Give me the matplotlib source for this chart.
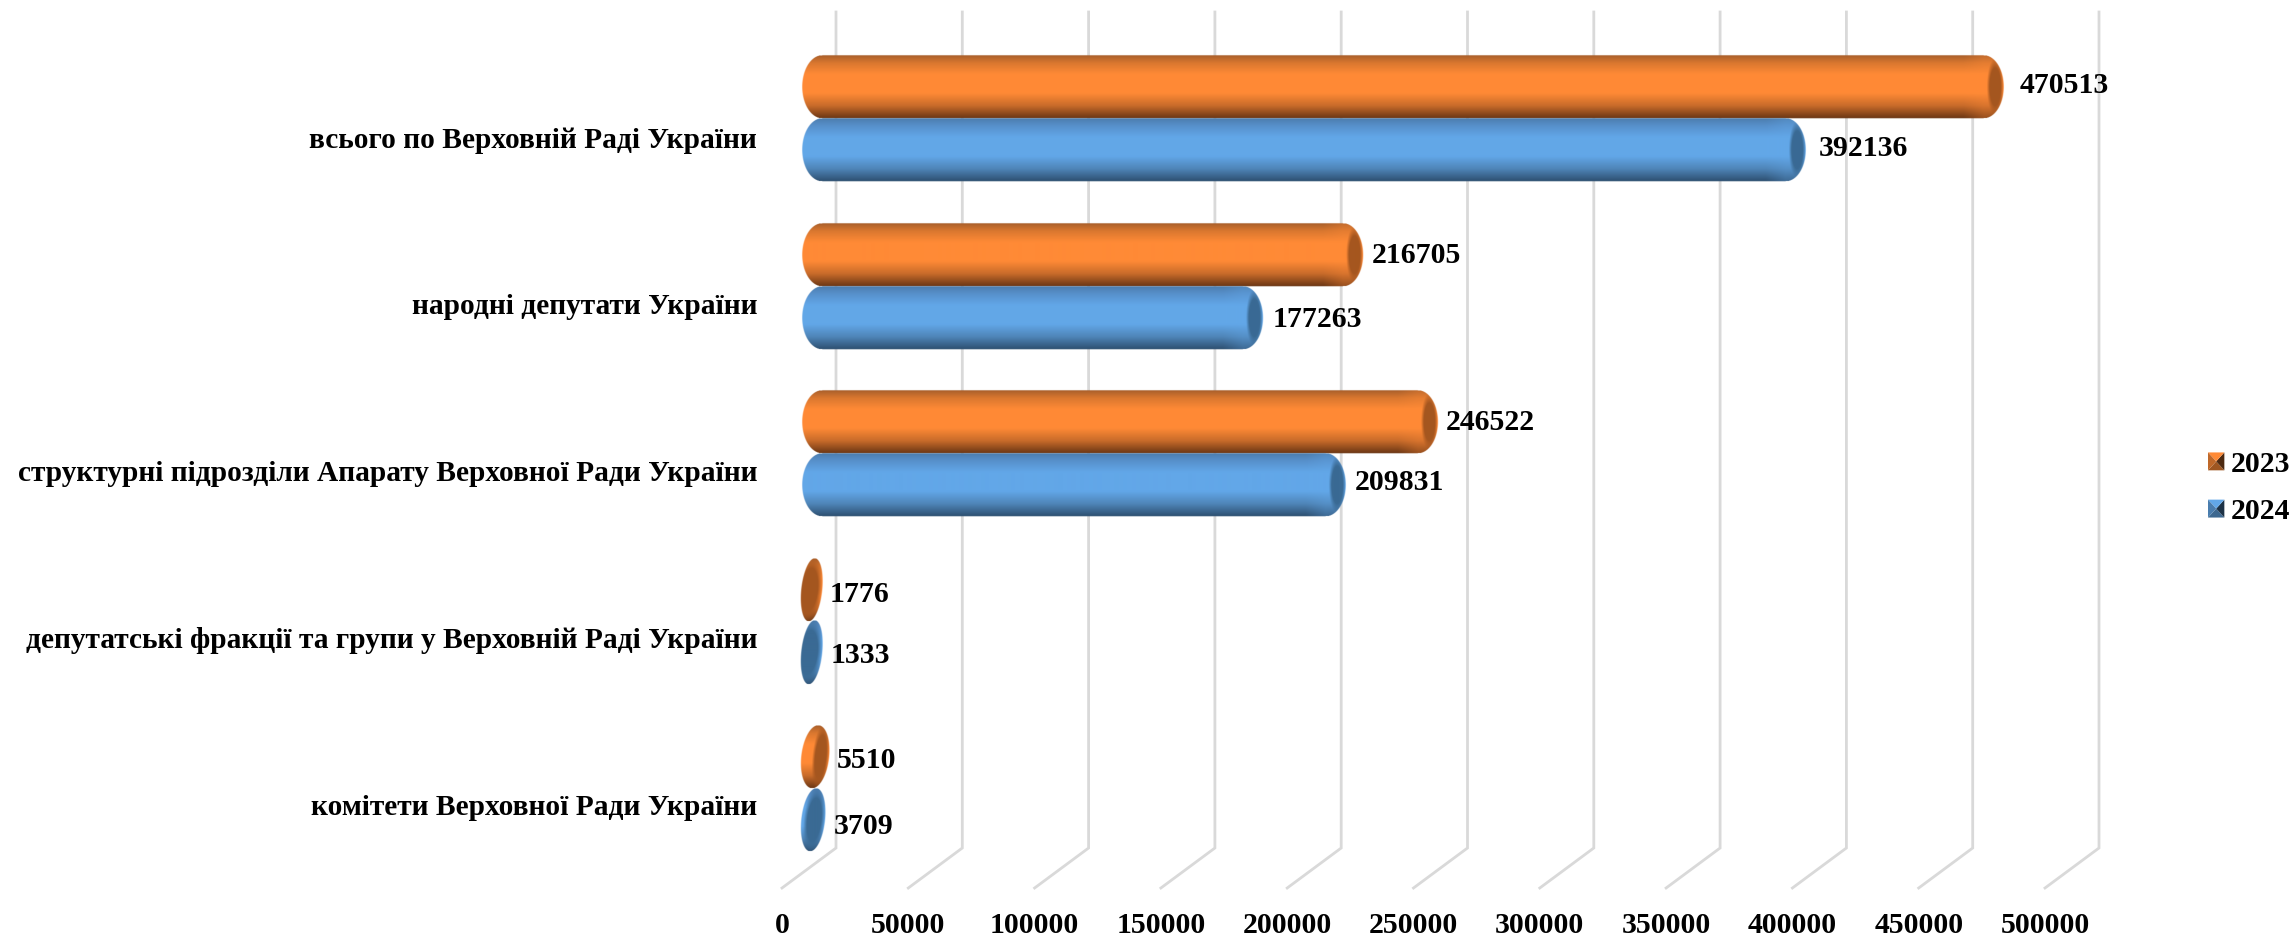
"""Horizontal bar chart, faked 3D cylinders in the office-chart look."""
import numpy as np
import matplotlib
matplotlib.use("Agg")
import matplotlib.pyplot as plt
from matplotlib.colors import to_rgb
from matplotlib.legend_handler import HandlerBase
from matplotlib.patches import Patch, Polygon
from matplotlib.transforms import ScaledTranslation

categories = ["всього по Верховній Раді України",
              "народні депутати України",
              "структурні підрозділи Апарату Верховної Ради України",
              "депутатські фракції та групи у Верховній Раді України",
              "комітети Верховної Ради України"]
series_names = ["2023", "2024"]
values_2023 = [470513, 216705, 246522, 1776, 5510]
values_2024 = [392136, 177263, 209831, 1333, 3709]
x_ticks = list(range(0, 500001, 50000))

W, H = 2295, 935
# axes box is the front plane of the fake 3D box, in pixels
AX_LEFT, AX_RIGHT, AX_TOP, AX_BOTTOM = 782, 2045, 12, 888
XMAX = 500000
CAT_STEP = 167.5
CAT_FIRST = 138.5
KX = (AX_RIGHT-AX_LEFT)/XMAX
FONT = ["Liberation Serif", "DejaVu Serif"]
FS = 21.4
FS_CAT = 21.2

GRID = "#d9d9d9"
DEPTH_X, DEPTH_Y = 54, 40    # back wall against front plane
BAR_X, BAR_Y = 33, 20        # plane the bars stand in
BAR_H = 63
STOPS = (0, .12, .3, .6, .8, 1)
ORANGE = dict(ramp=["#a85f2b", "#d9772f", "#ff8a36", "#ff8a36", "#c86b2a", "#6a3614"],
              face="#a5561f")
BLUE = dict(ramp=["#4c7dae", "#5790cb", "#62a7e8", "#62a7e8", "#4f85b8", "#2d4f70"],
            face="#3a6a94")
# small pixel corrections for the value labels, (2023, 2024) per category
NUDGE_X = [(7, 4), (0, 1), (-1, 1), (-1, 0), (-1, 0)]
NUDGE_Y = [(-1.5, -1.5), (1, 2), (0, -2), (5, 3), (3, 6)]


def cat_y(px):
    """Pixel distance from the first category -> data units."""
    return (px-CAT_FIRST)/CAT_STEP


def cylinder(ax, value, cat, side, style):
    """One bar as an RGBA image, so the shading survives."""
    tip = value*KX+BAR_X            # px right of the axes left edge
    left = 20.0 if value > 10000 else 19.0
    tip = max(tip, left+21)
    centre = (CAT_FIRST+cat*CAT_STEP-BAR_Y)+side*BAR_H/2
    x0, x1 = left-4, tip+4
    y0, y1 = centre-BAR_H/2-1, centre+BAR_H/2+1
    xs = np.arange(x0, x1, 0.5)
    ys = np.arange(y0, y1, 0.5)
    xx, yy = np.meshgrid(xs, ys)
    dy = np.clip((yy-centre)/(BAR_H/2), -1, 1)
    width = tip-left
    rx = min(20.0, width/2)
    bow = rx*(1-np.sqrt(1-dy**2))
    small = value < 10000
    shear = -3.0*dy if small else 0.0
    xl, xr = left+bow+shear, tip-bow+shear
    alpha = (np.clip(xx-xl+.5, 0, 1)*np.clip(xr-xx+.5, 0, 1)
             * np.clip(BAR_H/2-np.abs(yy-centre)+.5, 0, 1))

    ramp = np.array([to_rgb(c) for c in style["ramp"]])
    t = (yy-(centre-BAR_H/2))/BAR_H
    rgb = np.stack([np.interp(t, STOPS, ramp[:, i]) for i in range(3)], axis=-1)

    # the shading eases off just before the end face
    if not small:
        band = (np.clip((xx-(tip-40))/20, 0, 1)*0.3)[..., None]
        rgb = rgb*(1-band)+ramp[2]*band

    # end face
    face_w = 17+13*(1-value/5510) if small else 17
    fx = (xx-(tip-face_w/2)-shear)/(face_w/2)
    fy = (yy-centre)/(BAR_H/2*(1.05 if small else 0.92))
    edge = np.sqrt(fx**2+fy**2)
    mask = np.clip((1.0-edge)/0.35, 0, 1)[..., None]
    rgb = rgb*(1-mask)+np.array(to_rgb(style["face"]))*mask

    rgba = np.dstack([rgb, alpha])
    ax.imshow(rgba, origin="upper", aspect="auto", zorder=3,
              extent=(x0/KX, x1/KX, cat_y(y1), cat_y(y0)))
    return tip/KX, centre


class PyramidHandler(HandlerBase):
    """Legend swatch: square cut into four shaded triangles."""
    def create_artists(self, legend, orig, xd, yd, w, h, fontsize, trans):
        base = to_rgb(orig.get_facecolor())
        x, y = -xd, -yd
        mid = (x+w/2, y+h/2)
        corners = [(x, y), (x+w, y), (x+w, y+h), (x, y+h)]
        shades = (0.62, 0.3, 1.0, 0.75)    # bottom, right, top, left
        out = []
        for i, shade in enumerate(shades):
            tri = Polygon([corners[i], corners[(i+1) % 4], mid], closed=True, lw=0,
                          facecolor=tuple(c*shade for c in base), transform=trans)
            out.append(tri)
        return out


def main():
    plt.rcParams["font.family"] = FONT
    plt.rcParams["font.weight"] = "bold"
    fig = plt.figure(figsize=(W/100, H/100), dpi=100, facecolor="white")
    ax = fig.add_axes([AX_LEFT/W, 1-AX_BOTTOM/H, (AX_RIGHT-AX_LEFT)/W,
                       (AX_BOTTOM-AX_TOP)/H])

    # gridlines: back wall plus the slanted run over the floor
    y_front = cat_y(AX_BOTTOM)
    y_back = cat_y(AX_BOTTOM-DEPTH_Y)
    y_top = cat_y(AX_TOP)
    dx = DEPTH_X/KX
    for tick in x_ticks:
        ax.plot([tick, tick+dx, tick+dx], [y_front, y_back, y_top], color=GRID,
                lw=2.0, clip_on=False, zorder=1, solid_joinstyle="miter")

    for cat in range(len(categories)):
        for side, vals, style, sign in ((0, values_2023, ORANGE, -1),
                                        (1, values_2024, BLUE, 1)):
            value = vals[cat]
            tip, centre = cylinder(ax, value, cat, sign, style)
            ax.annotate(str(value), (tip, cat_y(centre)),
                        xytext=(9+NUDGE_X[cat][side], -NUDGE_Y[cat][side]),
                        textcoords="offset pixels", ha="left", va="center",
                        fontsize=FS, color="black", fontweight="bold", zorder=5)

    ax.set_xlim(0, XMAX)
    ax.set_ylim(cat_y(AX_BOTTOM), cat_y(AX_TOP))
    ax.set_xticks(x_ticks)
    ax.set_xticklabels([str(t) for t in x_ticks], fontsize=FS, fontweight="bold")
    ax.set_yticks(range(len(categories)))
    ax.set_yticklabels(categories, fontsize=FS_CAT, fontweight="bold")
    ax.tick_params(axis="both", length=0)
    ax.tick_params(axis="x", pad=17)
    ax.tick_params(axis="y", pad=18)
    # labels sit a little tighter than the bars
    for i, label in enumerate(ax.get_yticklabels()):
        shift = (1.5+0.7*i)/fig.dpi
        label.set_transform(label.get_transform()
                            + ScaledTranslation(0, shift, fig.dpi_scale_trans))
    ax.patch.set_visible(False)
    for spine in ax.spines.values():
        spine.set_visible(False)

    handles = [Patch(facecolor=ORANGE["ramp"][2], label=series_names[0]),
               Patch(facecolor=BLUE["ramp"][2], label=series_names[1])]
    fig.legend(handles=handles, handler_map={Patch: PyramidHandler()},
               loc="center left", bbox_to_anchor=(2208/W, 1-488/H), frameon=False,
               fontsize=FS, handlelength=0.55, handleheight=0.55, handletextpad=0.22,
               labelspacing=0.68, borderpad=0, borderaxespad=0)

    fig.savefig("out.png", dpi=100)


if __name__ == "__main__":
    main()
